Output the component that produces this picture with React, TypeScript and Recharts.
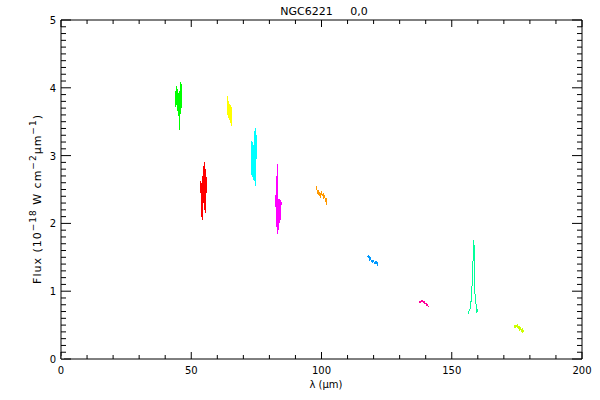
import { LineChart, Line, XAxis, YAxis } from 'recharts'

// wavelength (um) / flux (1e-18 W cm^-2 um^-1) segments
const green = [
  { x: 44.0, y: 3.95 }, { x: 44.1, y: 3.72 }, { x: 44.2, y: 4.02 }, { x: 44.4, y: 3.75 },
  { x: 44.6, y: 3.98 }, { x: 44.8, y: 3.66 }, { x: 45.0, y: 3.92 }, { x: 45.2, y: 3.58 },
  { x: 45.3, y: 3.85 }, { x: 45.5, y: 3.38 }, { x: 45.6, y: 3.95 }, { x: 45.8, y: 3.62 },
  { x: 45.9, y: 4.08 }, { x: 46.0, y: 3.64 }, { x: 46.1, y: 4.05 }, { x: 46.2, y: 3.7 },
]
const red = [
  { x: 53.7, y: 2.62 }, { x: 53.8, y: 2.25 }, { x: 53.9, y: 2.6 }, { x: 54.0, y: 2.1 },
  { x: 54.2, y: 2.7 }, { x: 54.4, y: 2.05 }, { x: 54.6, y: 2.85 }, { x: 54.8, y: 2.3 },
  { x: 55.0, y: 2.91 }, { x: 55.1, y: 2.2 }, { x: 55.3, y: 2.8 }, { x: 55.5, y: 2.15 },
  { x: 55.7, y: 2.68 }, { x: 55.9, y: 2.45 }, { x: 56.0, y: 2.66 },
]
const yellow = [
  { x: 63.8, y: 3.88 }, { x: 63.9, y: 3.6 }, { x: 64.0, y: 3.85 }, { x: 64.2, y: 3.56 },
  { x: 64.4, y: 3.8 }, { x: 64.6, y: 3.52 }, { x: 64.8, y: 3.76 }, { x: 65.0, y: 3.48 },
  { x: 65.2, y: 3.74 }, { x: 65.4, y: 3.43 }, { x: 65.5, y: 3.72 },
]
const cyan = [
  { x: 73.2, y: 3.22 }, { x: 73.3, y: 2.72 }, { x: 73.5, y: 3.2 }, { x: 73.7, y: 2.68 },
  { x: 73.9, y: 3.15 }, { x: 74.1, y: 2.62 }, { x: 74.3, y: 3.05 }, { x: 74.5, y: 3.4 },
  { x: 74.6, y: 2.55 }, { x: 74.8, y: 3.35 }, { x: 75.0, y: 2.95 }, { x: 75.2, y: 3.3 },
]
const magenta = [
  { x: 82.5, y: 2.42 }, { x: 82.6, y: 1.95 }, { x: 82.8, y: 2.4 }, { x: 83.0, y: 2.87 },
  { x: 83.1, y: 1.84 }, { x: 83.3, y: 2.38 }, { x: 83.5, y: 1.9 }, { x: 83.7, y: 2.36 },
  { x: 83.9, y: 2.0 }, { x: 84.1, y: 2.35 }, { x: 84.3, y: 2.05 }, { x: 84.5, y: 2.32 },
]
const orange = [
  { x: 97.9, y: 2.55 }, { x: 98.2, y: 2.5 }, { x: 98.5, y: 2.45 }, { x: 98.8, y: 2.47 },
  { x: 99.1, y: 2.4 }, { x: 99.4, y: 2.46 }, { x: 99.7, y: 2.38 }, { x: 100.0, y: 2.47 },
  { x: 100.3, y: 2.41 }, { x: 100.6, y: 2.44 }, { x: 100.9, y: 2.36 }, { x: 101.2, y: 2.42 },
  { x: 101.5, y: 2.33 }, { x: 101.8, y: 2.35 }, { x: 102.0, y: 2.27 },
]
const blue = [
  { x: 117.6, y: 1.52 }, { x: 117.9, y: 1.5 }, { x: 118.2, y: 1.53 }, { x: 118.5, y: 1.47 },
  { x: 118.8, y: 1.49 }, { x: 119.1, y: 1.44 }, { x: 119.4, y: 1.46 }, { x: 119.7, y: 1.42 },
  { x: 120.0, y: 1.45 }, { x: 120.3, y: 1.41 }, { x: 120.6, y: 1.44 }, { x: 120.9, y: 1.4 },
  { x: 121.2, y: 1.45 }, { x: 121.5, y: 1.38 }, { x: 121.7, y: 1.43 },
]
const pink = [
  { x: 137.4, y: 0.82 }, { x: 137.7, y: 0.84 }, { x: 138.0, y: 0.83 }, { x: 138.3, y: 0.86 },
  { x: 138.6, y: 0.85 }, { x: 138.9, y: 0.86 }, { x: 139.2, y: 0.83 }, { x: 139.5, y: 0.84 },
  { x: 139.8, y: 0.81 }, { x: 140.1, y: 0.82 }, { x: 140.4, y: 0.79 }, { x: 140.7, y: 0.8 },
  { x: 141.0, y: 0.77 }, { x: 141.3, y: 0.78 },
]
const aqua = [
  { x: 156.2, y: 0.7 }, { x: 156.4, y: 0.68 }, { x: 156.7, y: 0.72 }, { x: 157.0, y: 0.73 },
  { x: 157.3, y: 0.84 }, { x: 157.6, y: 0.86 }, { x: 157.9, y: 1.23 }, { x: 158.1, y: 1.3 },
  { x: 158.3, y: 1.75 }, { x: 158.5, y: 1.7 }, { x: 158.7, y: 1.6 }, { x: 158.9, y: 0.97 },
  { x: 159.2, y: 0.9 }, { x: 159.4, y: 0.74 }, { x: 159.6, y: 0.7 }, { x: 159.8, y: 0.72 },
  { x: 160.1, y: 0.69 },
]
const lime = [
  { x: 173.9, y: 0.47 }, { x: 174.1, y: 0.5 }, { x: 174.3, y: 0.46 }, { x: 174.6, y: 0.49 },
  { x: 174.9, y: 0.48 }, { x: 175.2, y: 0.52 }, { x: 175.5, y: 0.44 }, { x: 175.8, y: 0.49 },
  { x: 176.1, y: 0.42 }, { x: 176.4, y: 0.47 }, { x: 176.7, y: 0.4 }, { x: 177.0, y: 0.45 },
  { x: 177.3, y: 0.39 }, { x: 177.5, y: 0.43 },
]

const segments = [
  { data: green, color: '#00ff00' },
  { data: red, color: '#ff0000' },
  { data: yellow, color: '#ffff00' },
  { data: cyan, color: '#00ffff' },
  { data: magenta, color: '#ff00ff' },
  { data: orange, color: '#ff9900' },
  { data: blue, color: '#0099ff' },
  { data: pink, color: '#ff0099' },
  { data: aqua, color: '#00ff99' },
  { data: lime, color: '#ccff00' },
]

const xTicks = Array.from({ length: 21 }, (_, i) => i * 10)
const yTicks = Array.from({ length: 51 }, (_, i) => i / 10)

const FONT = 'DejaVu Sans'

const isMajorX = (v: number) => Math.abs(v % 50) < 1e-6
const isMajorY = (v: number) => Math.abs(v - Math.round(v)) < 1e-6

function BottomTick({ x, y, payload }: any) {
  const major = isMajorX(payload.value)
  return (
    <g>
      <line x1={x} x2={x} y1={y} y2={y - (major ? 7 : 4)} stroke="#000" />
      {major && (
        <text x={x} y={y + 15} textAnchor="middle" fontSize={10} fontFamily={FONT} fill="#000">
          {payload.value}
        </text>
      )}
    </g>
  )
}

function TopTick({ x, y, payload }: any) {
  const major = isMajorX(payload.value)
  return <line x1={x} x2={x} y1={y} y2={y + (major ? 7 : 4)} stroke="#000" />
}

function LeftTick({ x, y, payload }: any) {
  const major = isMajorY(payload.value)
  return (
    <g>
      <line x1={x} x2={x + (major ? 10 : 5)} y1={y} y2={y} stroke="#000" />
      {major && (
        <text x={x - 5} y={y + 4} textAnchor="end" fontSize={10} fontFamily={FONT} fill="#000">
          {Math.round(payload.value)}
        </text>
      )}
    </g>
  )
}

function RightTick({ x, y, payload }: any) {
  const major = isMajorY(payload.value)
  return <line x1={x} x2={x - (major ? 10 : 5)} y1={y} y2={y} stroke="#000" />
}

export default function App() {
  return (
    <div style={{ position: 'absolute', left: 0, top: 0, width: 600, height: 400, background: '#fff' }}>
      <LineChart width={600} height={400} margin={{ top: 19, right: 17, bottom: 40, left: 60 }}>
        <XAxis xAxisId="b" type="number" dataKey="x" domain={[0, 200]} ticks={xTicks} interval={0}
          height={1} tickSize={0} tickMargin={0} tick={<BottomTick />} axisLine={{ stroke: '#000' }}
          allowDataOverflow />
        <XAxis xAxisId="t" orientation="top" type="number" dataKey="x" domain={[0, 200]} ticks={xTicks}
          interval={0} height={1} tickSize={0} tickMargin={0} tick={<TopTick />} axisLine={{ stroke: '#000' }}
          allowDataOverflow />
        <YAxis yAxisId="l" type="number" domain={[0, 5]} ticks={yTicks} interval={0} width={1}
          tickSize={0} tickMargin={0} tick={<LeftTick />} axisLine={{ stroke: '#000' }} allowDataOverflow />
        <YAxis yAxisId="r" orientation="right" type="number" domain={[0, 5]} ticks={yTicks} interval={0}
          width={1} tickSize={0} tickMargin={0} tick={<RightTick />} axisLine={{ stroke: '#000' }}
          allowDataOverflow />
        <Line xAxisId="t" yAxisId="r" data={[{ x: 0, y: 0 }]} dataKey="y" stroke="none" dot={false}
          isAnimationActive={false} />
        {segments.map((s, i) => (
          <Line key={i} xAxisId="b" yAxisId="l" data={s.data} dataKey="y" type="linear" stroke={s.color}
            strokeWidth={1} dot={false} isAnimationActive={false} shapeRendering="crispEdges" />
        ))}
      </LineChart>
      <svg width={600} height={400} style={{ position: 'absolute', left: 0, top: 0, pointerEvents: 'none' }}>
        <text x={324} y={15} textAnchor="middle" fontSize={11} fontFamily={FONT} fill="#000"
          style={{ whiteSpace: 'pre' }}>
          {'NGC6221     0,0'}
        </text>
        <text x={326} y={388} textAnchor="middle" fontSize={10} fontFamily={FONT} fill="#000">
          λ (μm)
        </text>
        <text transform="translate(41,199) rotate(-90)" textAnchor="middle" fontSize={11}
          letterSpacing={1} fontFamily={FONT} fill="#000">
          Flux (10<tspan dy={-5} fontSize={9}>−18</tspan>
          <tspan dy={5}> W cm</tspan>
          <tspan dy={-5} fontSize={9}>−2</tspan>
          <tspan dy={5}>μm</tspan>
          <tspan dy={-5} fontSize={9}>−1</tspan>
          <tspan dy={5}>)</tspan>
        </text>
      </svg>
    </div>
  )
}
